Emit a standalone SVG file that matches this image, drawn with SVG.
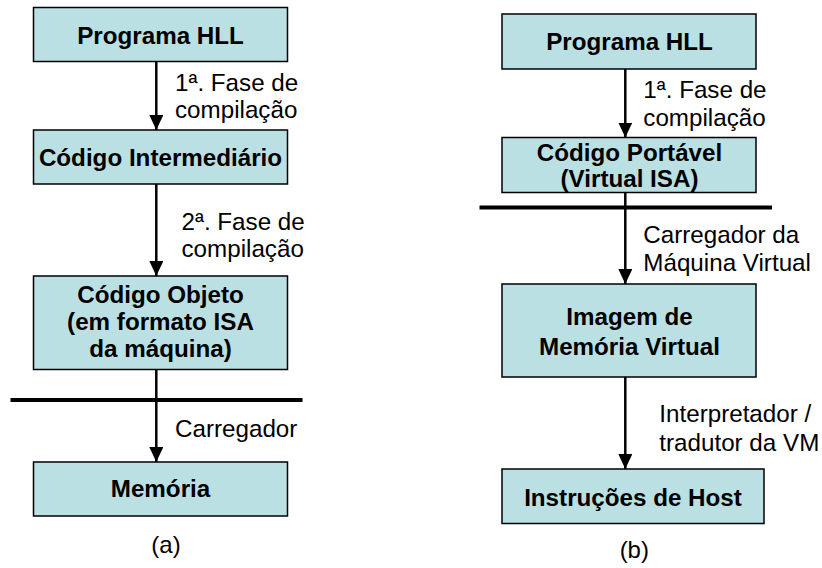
<svg xmlns="http://www.w3.org/2000/svg" width="822" height="568" viewBox="0 0 822 568">
<style>
.box{fill:#BAE0E3;stroke:#000;stroke-width:1.5}
.bt{font-family:"Liberation Sans",Arial,sans-serif;font-weight:bold;font-size:24.2px;fill:#000;text-anchor:middle}
.lb{font-family:"Liberation Sans",Arial,sans-serif;font-size:24.2px;fill:#000}
.cap{font-family:"Liberation Sans",Arial,sans-serif;font-size:24px;fill:#000;text-anchor:middle}
.ar{stroke:#000;stroke-width:2.5;fill:none;marker-end:url(#ah)}
.sep{stroke:#000;stroke-width:4}
</style>
<defs>
<marker id="ah" markerUnits="userSpaceOnUse" markerWidth="16" markerHeight="14" refX="15" refY="7" orient="auto">
<path d="M0,0 L15,7 L0,14 Z" fill="#000"/>
</marker>
</defs>
<g id="connectors">
<line class="ar" x1="156.3" y1="61.5" x2="156.3" y2="130"/>
<line class="ar" x1="156.3" y1="184" x2="156.3" y2="276"/>
<line class="ar" x1="156.3" y1="369.5" x2="156.3" y2="462"/>
<line class="sep" x1="10.5" y1="400" x2="302.5" y2="400"/>
<line class="ar" x1="625.3" y1="69" x2="625.3" y2="137.5"/>
<line class="ar" x1="625.3" y1="192.5" x2="625.3" y2="284"/>
<line class="ar" x1="625.3" y1="377" x2="625.3" y2="469"/>
<line class="sep" x1="479.5" y1="207.5" x2="772" y2="207.5"/>
</g>
<g id="a-hll"><rect class="box" x="33.5" y="7.5" width="254" height="54"/><text class="bt" x="160.5" y="44">Programa HLL</text></g>
<g id="a-inter"><rect class="box" x="33.5" y="130" width="254" height="54"/><text class="bt" x="160.5" y="166">Código Intermediário</text></g>
<g id="a-obj"><rect class="box" x="33.5" y="276" width="254" height="93.5"/><text class="bt" x="160.5" y="303">Código Objeto</text><text class="bt" x="160.5" y="330">(em formato ISA</text><text class="bt" x="160.5" y="357">da máquina)</text></g>
<g id="a-mem"><rect class="box" x="33.5" y="462" width="254" height="54"/><text class="bt" x="160.5" y="497">Memória</text></g>
<g id="a-labels">
<text class="lb" x="175" y="90.5">1ª. Fase de</text><text class="lb" x="175" y="118">compilação</text>
<text class="lb" x="181.5" y="230">2ª. Fase de</text><text class="lb" x="181.5" y="257">compilação</text>
<text class="lb" x="175" y="437">Carregador</text>
<text class="cap" x="166" y="552.5">(a)</text>
</g>
<g id="b-hll"><rect class="box" x="502" y="14" width="254" height="55"/><text class="bt" x="629.5" y="50">Programa HLL</text></g>
<g id="b-port"><rect class="box" x="502" y="137.5" width="254" height="55"/><text class="bt" x="629.5" y="161">Código Portável</text><text class="bt" x="629.5" y="187">(Virtual ISA)</text></g>
<g id="b-img"><rect class="box" x="502" y="284" width="254" height="93"/><text class="bt" x="629.5" y="324.5">Imagem de</text><text class="bt" x="629.5" y="355">Memória Virtual</text></g>
<g id="b-host"><rect class="box" x="502" y="469" width="262" height="54.5"/><text class="bt" x="633" y="505.5">Instruções de Host</text></g>
<g id="b-labels">
<text class="lb" x="643.3" y="98.3">1ª. Fase de</text><text class="lb" x="643.3" y="126">compilação</text>
<text class="lb" x="643.3" y="243">Carregador da</text><text class="lb" x="643.3" y="270.5">Máquina Virtual</text>
<text class="lb" x="659.3" y="422.3">Interpretador /</text><text class="lb" x="659.3" y="450.5">tradutor da VM</text>
<text class="cap" x="634.3" y="557.5">(b)</text>
</g>
</svg>
